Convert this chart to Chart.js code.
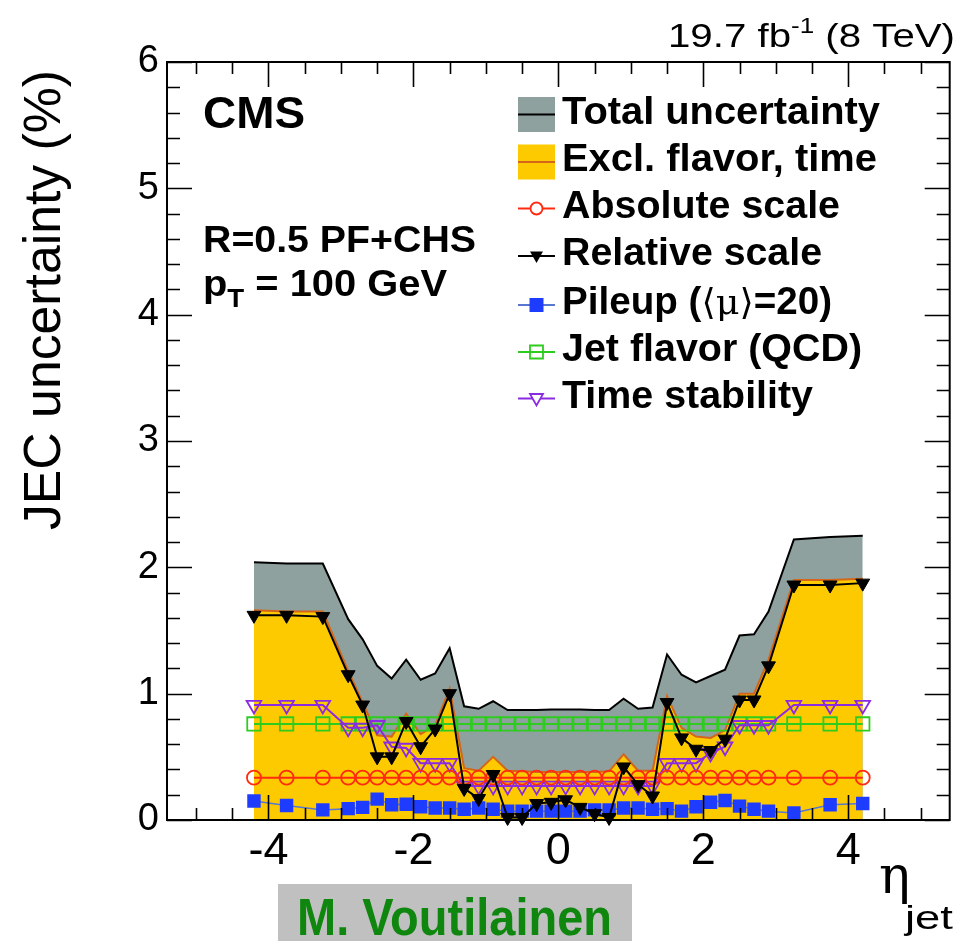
<!DOCTYPE html>
<html>
<head>
<meta charset="utf-8">
<script src="https://cdn.jsdelivr.net/npm/chart.js@4.4.1/dist/chart.umd.min.js"></script>
<style>
  html, body { margin: 0; padding: 0; background: #fff; }
  #wrap { width: 961px; height: 941px; }
</style>
</head>
<body>
<div id="wrap"><canvas id="jec" width="961" height="941"></canvas></div>
<script>
// ── Data (eta bin centres, uncertainty in %) ──
const eta = [-4.2, -3.75, -3.25, -2.9, -2.7, -2.5, -2.3, -2.1, -1.9, -1.7, -1.5, -1.3,
  -1.1, -0.9, -0.7, -0.5, -0.3, -0.1, 0.1, 0.3, 0.5, 0.7, 0.9, 1.1,
  1.3, 1.5, 1.7, 1.9, 2.1, 2.3, 2.5, 2.7, 2.9, 3.25, 3.75, 4.2];

const totalUnc = [2.04, 2.03, 2.03, 1.59, 1.43, 1.22, 1.12, 1.27, 1.11, 1.16, 1.36, 0.90,
  0.88, 0.94, 0.87, 0.87, 0.87, 0.875, 0.875, 0.875, 0.87, 0.87, 0.96, 0.88,
  0.89, 1.31, 1.15, 1.09, 1.14, 1.19, 1.46, 1.47, 1.65, 2.22, 2.24, 2.25];

const exclFlavorTime = [1.66, 1.65, 1.65, 1.18, 0.93, 0.67, 0.66, 0.84, 0.68, 0.75, 1.04, 0.41,
  0.39, 0.50, 0.39, 0.385, 0.38, 0.38, 0.38, 0.38, 0.38, 0.385, 0.52, 0.39,
  0.39, 0.98, 0.73, 0.66, 0.65, 0.71, 1.00, 1.00, 1.27, 1.90, 1.90, 1.91];

const absoluteScale = [0.335, 0.335, 0.335, 0.335, 0.335, 0.335, 0.335, 0.335, 0.335, 0.335, 0.335, 0.335,
  0.335, 0.335, 0.335, 0.335, 0.335, 0.335, 0.335, 0.335, 0.335, 0.335, 0.335, 0.335,
  0.335, 0.335, 0.335, 0.335, 0.335, 0.335, 0.335, 0.335, 0.335, 0.335, 0.335, 0.335];

const relativeScale = [1.62, 1.62, 1.61, 1.15, 0.91, 0.50, 0.50, 0.78, 0.58, 0.72, 1.00, 0.25,
  0.17, 0.36, 0.02, 0.02, 0.13, 0.14, 0.16, 0.10, 0.05, 0.02, 0.42, 0.28,
  0.19, 0.93, 0.65, 0.56, 0.55, 0.64, 0.95, 0.95, 1.22, 1.86, 1.86, 1.875];

const pileup = [0.15, 0.115, 0.08, 0.09, 0.10, 0.165, 0.12, 0.125, 0.105, 0.095, 0.095, 0.085,
  0.095, 0.085, 0.07, 0.07, 0.07, 0.07, 0.07, 0.07, 0.08, 0.08, 0.095, 0.095,
  0.085, 0.09, 0.07, 0.105, 0.14, 0.155, 0.11, 0.085, 0.07, 0.055, 0.12, 0.13];

const jetFlavor = [0.76, 0.76, 0.76, 0.76, 0.76, 0.76, 0.76, 0.76, 0.76, 0.76, 0.76, 0.76,
  0.76, 0.76, 0.76, 0.76, 0.76, 0.76, 0.76, 0.76, 0.76, 0.76, 0.76, 0.76,
  0.76, 0.76, 0.76, 0.76, 0.76, 0.76, 0.76, 0.76, 0.76, 0.76, 0.76, 0.76];

const timeStability = [0.91, 0.91, 0.91, 0.73, 0.73, 0.75, 0.58, 0.57, 0.45, 0.45, 0.45, 0.27,
  0.27, 0.27, 0.27, 0.27, 0.27, 0.27, 0.27, 0.27, 0.27, 0.27, 0.27, 0.27,
  0.27, 0.45, 0.45, 0.45, 0.53, 0.58, 0.75, 0.75, 0.75, 0.91, 0.91, 0.91];

const xTickLabels = [-4, -2, 0, 2, 4];
const yTickLabels = [0, 1, 2, 3, 4, 5, 6];

// ── Style ─────────────────────────────────────
const C = {
  grey: '#8fa19e',
  yellow: '#fdca00',
  orange: '#d4661a',
  red: '#ff2a10',
  blue: '#1e3cff',
  blueLine: '#5877d0',
  green: '#2ecc1e',
  purple: '#8a2be2',
  sans: '"Liberation Sans", Arial, Helvetica, sans-serif',
  serif: '"DejaVu Serif", "Liberation Serif", serif',
};

const pts = arr => eta.map((x, i) => ({ x, y: arr[i] }));

function lineSet(label, arr, o) {
  return Object.assign({
    label, data: pts(arr), borderWidth: 2, pointRadius: 0, tension: 0, fill: false,
    pointBorderWidth: 1.8,
  }, o);
}

const datasets = [
  lineSet('Total uncertainty', totalUnc, { borderColor: '#000', backgroundColor: C.grey, fill: 'origin', order: 7 }),
  lineSet('Excl. flavor, time', exclFlavorTime, { borderColor: C.orange, backgroundColor: C.yellow, fill: 'origin', order: 6 }),
  lineSet('Jet flavor (QCD)', jetFlavor, { borderColor: C.green, pointStyle: 'rect', pointRadius: 9.5,
    pointBorderColor: C.green, pointBackgroundColor: 'rgba(0,0,0,0)', order: 5 }),
  lineSet('Time stability', timeStability, { borderColor: C.purple, pointStyle: 'triangle', pointRotation: 180,
    pointRadius: 8.5, pointBorderColor: C.purple, pointBackgroundColor: 'rgba(0,0,0,0)', order: 4 }),
  lineSet('Absolute scale', absoluteScale, { borderColor: C.red, pointStyle: 'circle', pointRadius: 7,
    pointBorderColor: C.red, pointBackgroundColor: 'rgba(0,0,0,0)', order: 3 }),
  lineSet('Pileup', pileup, { borderColor: C.blueLine, borderWidth: 1.5, pointStyle: 'rect', pointRadius: 9.5,
    pointBorderWidth: 0, pointBackgroundColor: C.blue, order: 2 }),
  lineSet('Relative scale', relativeScale, { borderColor: '#000', pointStyle: 'triangle', pointRotation: 180,
    pointRadius: 8, pointBorderWidth: 1, pointBorderColor: '#000', pointBackgroundColor: '#000', order: 1, clip: 12 }),
];

// ── Text helpers ──────────────────────────────
function runWidth(ctx, segs) {
  let w = 0;
  segs.forEach(s => { ctx.font = s.font; w += ctx.measureText(s.t).width; });
  return w;
}
function drawRun(ctx, x, y, segs) {
  segs.forEach(s => {
    ctx.font = s.font;
    ctx.fillText(s.t, x, y + (s.dy || 0));
    x += ctx.measureText(s.t).width;
  });
}
// the reference's type is a bit wider than Liberation Sans; stretch runs to the measured width
function drawFit(ctx, x, y, segs, width) {
  const sx = width / runWidth(ctx, segs);
  ctx.save();
  ctx.translate(x, y);
  ctx.scale(sx, 1);
  drawRun(ctx, 0, 0, segs);
  ctx.restore();
}

// legend symbol helpers
function mark(ctx, kind, x, y, color) {
  ctx.save();
  ctx.strokeStyle = color; ctx.fillStyle = color; ctx.lineWidth = 1.8;
  ctx.beginPath();
  if (kind === 'circle') { ctx.arc(x, y, 6, 0, Math.PI * 2); ctx.fillStyle = '#fff'; ctx.fill(); ctx.stroke(); }
  else if (kind === 'square') { ctx.rect(x - 6.5, y - 6.5, 13, 13); ctx.stroke(); }
  else if (kind === 'fsquare') { ctx.rect(x - 7, y - 7, 14, 14); ctx.fill(); }
  else if (kind === 'tri' || kind === 'ftri') {
    ctx.moveTo(x - 6.5, y - 4.5); ctx.lineTo(x + 6.5, y - 4.5); ctx.lineTo(x, y + 7); ctx.closePath();
    if (kind === 'ftri') ctx.fill(); else { ctx.fillStyle = '#fff'; ctx.fill(); ctx.stroke(); }
  }
  ctx.restore();
}

const decor = {
  id: 'decor',
  afterDraw(chart) {
    const { ctx, chartArea: a, scales: { x, y } } = chart;
    ctx.save();
    ctx.strokeStyle = '#000';
    ctx.fillStyle = '#000';

    // frame + inward ticks on all four sides
    ctx.lineWidth = 2;
    ctx.strokeRect(a.left, a.top, a.right - a.left, a.bottom - a.top);
    ctx.lineWidth = 1.6;
    ctx.beginPath();
    for (let v = -5; v <= 5.001; v += 0.5) {
      const px = Math.round(x.getPixelForValue(v)) + 0.5;
      const len = Math.abs(v % 2) < 1e-6 ? 25 : 12;
      ctx.moveTo(px, a.bottom); ctx.lineTo(px, a.bottom - len);
      ctx.moveTo(px, a.top); ctx.lineTo(px, a.top + len);
    }
    for (let i = 0; i <= 30; i++) {
      const v = i * 0.2;
      const py = Math.round(y.getPixelForValue(v)) + 0.5;
      const len = i % 5 === 0 ? 25 : 13;
      ctx.moveTo(a.left, py); ctx.lineTo(a.left + len, py);
      ctx.moveTo(a.right, py); ctx.lineTo(a.right - len, py);
    }
    ctx.stroke();

    ctx.textAlign = 'left';
    ctx.textBaseline = 'alphabetic';

    // luminosity label
    drawFit(ctx, 668, 47, [
      { t: '19.7 fb', font: `34px ${C.sans}` },
      { t: '-1', font: `22px ${C.sans}`, dy: -14 },
      { t: ' (8 TeV)', font: `34px ${C.sans}` },
    ], 287);

    // CMS + selection labels
    drawFit(ctx, 203, 128, [{ t: 'CMS', font: `bold 45px ${C.sans}` }], 102);
    drawFit(ctx, 203, 252, [{ t: 'R=0.5 PF+CHS', font: `bold 36px ${C.sans}` }], 273);
    drawFit(ctx, 203, 296, [
      { t: 'p', font: `bold 36px ${C.sans}` },
      { t: 'T', font: `bold 25px ${C.sans}`, dy: 11 },
      { t: ' = 100 GeV', font: `bold 36px ${C.sans}` },
    ], 244);

    // legend
    const lf = `bold 38px ${C.sans}`;
    const lx = 518, lw = 37, tx = 562;
    const rows = [114.5, 162, 208.5, 256, 305, 352, 398.5];
    ctx.fillStyle = C.grey; ctx.fillRect(lx, rows[0] - 17.5, lw, 35);
    ctx.fillStyle = C.yellow; ctx.fillRect(lx, rows[1] - 17.5, lw, 35);
    const seg = (yy, color, w) => {
      ctx.strokeStyle = color; ctx.lineWidth = w || 2;
      ctx.beginPath(); ctx.moveTo(lx, yy); ctx.lineTo(lx + lw, yy); ctx.stroke();
    };
    seg(rows[0], '#000'); seg(rows[1], C.orange);
    seg(rows[2], C.red); mark(ctx, 'circle', lx + lw / 2, rows[2], C.red);
    seg(rows[3], '#000'); mark(ctx, 'ftri', lx + lw / 2, rows[3], '#000');
    seg(rows[4], C.blueLine); mark(ctx, 'fsquare', lx + lw / 2, rows[4], C.blue);
    seg(rows[5], C.green); mark(ctx, 'square', lx + lw / 2, rows[5], C.green);
    seg(rows[6], C.purple); mark(ctx, 'tri', lx + lw / 2, rows[6], C.purple);
    ctx.fillStyle = '#000';
    const legendRows = [
      [[{ t: 'Total uncertainty', font: lf }], 318],
      [[{ t: 'Excl. flavor, time', font: lf }], 315],
      [[{ t: 'Absolute scale', font: lf }], 278],
      [[{ t: 'Relative scale', font: lf }], 260],
      [[{ t: 'Pileup (', font: lf }, { t: '\u27E8\u03BC\u27E9', font: `36px ${C.serif}` }, { t: '=20)', font: lf }], 270],
      [[{ t: 'Jet flavor (QCD)', font: lf }], 300],
      [[{ t: 'Time stability', font: lf }], 251],
    ];
    legendRows.forEach(([segs, w], i) => drawFit(ctx, tx, rows[i] + 9, segs, w));

    // y axis title, rotated, end aligned to the top
    ctx.save();
    ctx.translate(60, 70);
    ctx.rotate(-Math.PI / 2);
    ctx.font = `52px ${C.sans}`;
    const yt = 'JEC uncertainty (%)';
    const ytw = ctx.measureText(yt).width;
    ctx.scale(460 / ytw, 1);
    ctx.textAlign = 'right';
    ctx.fillText(yt, 0, 0);
    ctx.restore();

    // x axis title
    drawRun(ctx, 879, 893, [{ t: '\u03B7', font: `52px ${C.serif}` }]);
    drawFit(ctx, 905, 929, [{ t: 'jet', font: `34px ${C.sans}` }], 48);

    // name box
    ctx.fillStyle = '#c0c0c0';
    ctx.fillRect(278, 884, 354, 57);
    ctx.fillStyle = '#0f870f';
    drawFit(ctx, 297, 935, [{ t: 'M. Voutilainen', font: `bold 52px ${C.sans}` }], 315);

    ctx.restore();
  }
};

Chart.defaults.font.family = C.sans;
Chart.defaults.color = '#000';

new Chart(document.getElementById('jec'), {
  type: 'line',
  data: { datasets },
  options: {
    responsive: false,
    animation: false,
    devicePixelRatio: 1,
    layout: { padding: { top: 62, right: 4, left: 0, bottom: 0 } },
    plugins: { legend: { display: false }, tooltip: { enabled: false } },
    scales: {
      x: {
        type: 'linear', min: -5.4, max: 5.4,
        grid: { display: false, drawTicks: false },
        border: { display: false },
        afterBuildTicks: s => { s.ticks = xTickLabels.map(value => ({ value })); },
        afterFit: s => { s.height = 121; s.paddingLeft = 0; s.paddingRight = 0; },
        ticks: {
          padding: 5, font: { size: 45 }, color: '#000', maxRotation: 0,
          callback: v => (v < 0 ? '-' : '') + Math.abs(v),
        },
      },
      y: {
        type: 'linear', min: 0, max: 6,
        grid: { display: false, drawTicks: false },
        border: { display: false },
        afterBuildTicks: s => { s.ticks = yTickLabels.map(value => ({ value })); },
        afterFit: s => { s.width = 167; },
        ticks: { padding: 8, font: { size: 38 }, color: '#000' },
      },
    },
  },
  plugins: [decor],
});
</script>
</body>
</html>
